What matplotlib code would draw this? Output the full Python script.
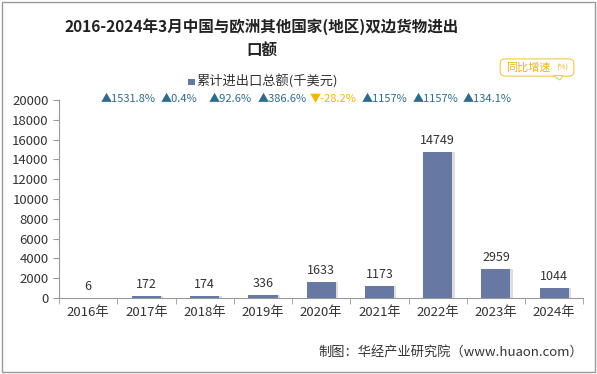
import matplotlib.pyplot as plt
from matplotlib.patches import FancyBboxPatch, Rectangle, Polygon
import numpy as np

plt.rcParams['font.family'] = ['Noto Sans CJK SC', 'DejaVu Sans']

# data
years = ['2016年', '2017年', '2018年', '2019年', '2020年', '2021年', '2022年', '2023年', '2024年']
values = [6, 172, 174, 336, 1633, 1173, 14749, 2959, 1044]
growth = [1531.8, 0.4, 92.6, 386.6, -28.2, 1157, 1157, 134.1]
growth_txt = ['1531.8%', '0.4%', '92.6%', '386.6%', '-28.2%', '1157%', '1157%', '134.1%']

bar_color = '#6779a3'
up_color = '#2f6b8c'
down_color = '#f2b705'

fig = plt.figure(figsize=(5.97, 3.74), dpi=100)
ax = fig.add_axes([0.099, 0.203, 0.878, 0.530])

x = np.arange(len(years))
# soft shadow behind bars
ax.bar(x + 0.04, values, width=0.5, color='#c8c8c8', alpha=0.6, zorder=1)
ax.bar(x, values, width=0.5, color=bar_color, zorder=2)

for xi, v in zip(x, values):
    ax.text(xi, v + 500, str(v), ha='center', va='bottom', fontsize=9, color='#333333')

ax.set_xlim(-0.5, len(years) - 0.5)
ax.set_ylim(0, 20000)
ax.set_yticks(range(0, 20001, 2000))
ax.set_xticks(x)
ax.set_xticklabels(years, fontsize=9.5, color='#333333')
ax.tick_params(axis='y', labelsize=9.5, colors='#333333', length=4, color='#999999')
ax.tick_params(axis='x', length=0, pad=6)
# category boundary ticks on x axis
ax.set_xticks(np.arange(-0.5, len(years), 1), minor=True)
ax.tick_params(axis='x', which='minor', length=4, color='#999999')
for s in ['top', 'right']:
    ax.spines[s].set_visible(False)
ax.spines['left'].set_color('#999999')
ax.spines['bottom'].set_color('#999999')

# title
fig.text(0.439, 0.93, '2016-2024年3月中国与欧洲其他国家(地区)双边货物进出',
         ha='center', va='center', fontsize=11.2, fontweight='bold', color='#222222')
fig.text(0.439, 0.863, '口额', ha='center', va='center', fontsize=11.2,
         fontweight='bold', color='#222222')

# legend
fig.patches.append(Rectangle((188 / 597, 0.773), 0.011, 0.017, transform=fig.transFigure,
                             facecolor=bar_color, edgecolor='none'))
fig.text(196 / 597, 0.781, '累计进出口总额(千美元)', ha='left', va='center', fontsize=9.5, color='#333333')

# growth labels
gx = np.linspace(128, 487, len(growth)) / 597
for xi, g, t in zip(gx, growth, growth_txt):
    if g >= 0:
        fig.text(xi, 0.734, '▲' + t, ha='center', va='center', fontsize=8, color=up_color)
    else:
        fig.text(xi, 0.734, '▼' + t, ha='center', va='center', fontsize=8, color=down_color)

# callout box
box = FancyBboxPatch((502 / 597, 1 - 75 / 374), 70 / 597, 15 / 374,
                     boxstyle='round,pad=0.003,rounding_size=0.01', transform=fig.transFigure,
                     facecolor='white', edgecolor='#f2c94c', linewidth=0.8)
fig.patches.append(box)
fig.patches.append(Polygon([(553 / 597, 1 - 75.5 / 374), (563 / 597, 1 - 75.5 / 374),
                            (560 / 597, 1 - 80 / 374)], closed=True, transform=fig.transFigure,
                           facecolor='white', edgecolor='#f2c94c', linewidth=0.8))
fig.text(506 / 597, 1 - 67.5 / 374, '同比增速', ha='left', va='center', fontsize=8, color='#e6b422')
fig.text(556 / 597, 1 - 67.5 / 374, '(%)', ha='left', va='center', fontsize=5.5, color='#e6b422')

# source
fig.text(0.533, 0.058, '制图：华经产业研究院（www.huaon.com）', ha='left', va='center',
         fontsize=9.5, color='#333333')

# outer frame
fig.patches.append(Rectangle((0.004, 0.006), 0.992, 0.988, transform=fig.transFigure,
                             facecolor='none', edgecolor='#999999', linewidth=1))

fig.savefig('out.png', dpi=100)
